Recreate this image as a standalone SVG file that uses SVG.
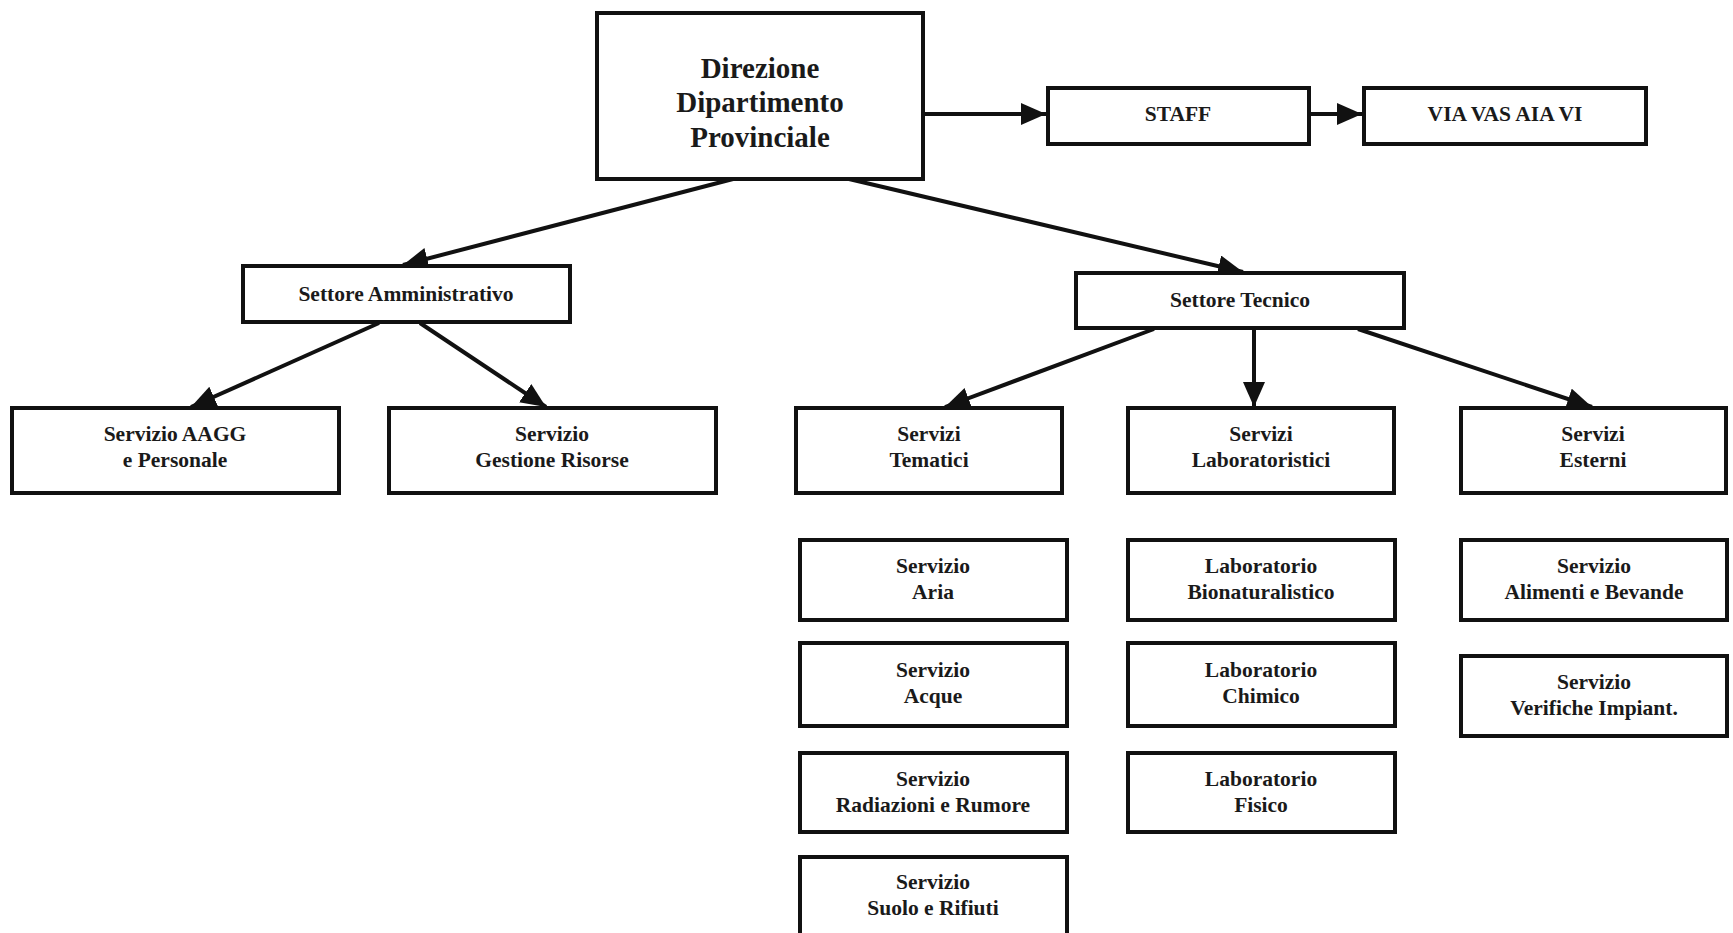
<svg xmlns="http://www.w3.org/2000/svg" width="1733" height="933" viewBox="0 0 1733 933">
<defs>
<style>
.box{fill:#fff;stroke:#111;stroke-width:4}
.t{font-family:"Liberation Serif","Times New Roman",serif;font-weight:bold;font-size:21.5px;fill:#1a1a1a;text-anchor:middle}
.big{font-size:29px}
.c{stroke:#111;stroke-width:4;fill:none}
</style>
<marker id="ah" markerUnits="userSpaceOnUse" markerWidth="28" markerHeight="26" refX="25" refY="11" orient="auto">
<path d="M0,0 L25,11 L0,22 Z" fill="#111"/>
</marker>
</defs>
<rect width="1733" height="933" fill="#fff"/>
<g id="connectors">
<line class="c" x1="923" y1="114" x2="1046" y2="114" marker-end="url(#ah)"/>
<line class="c" x1="1309" y1="114" x2="1362" y2="114" marker-end="url(#ah)"/>
<line class="c" x1="733" y1="179" x2="403" y2="265" marker-end="url(#ah)"/>
<line class="c" x1="849" y1="179" x2="1243" y2="272" marker-end="url(#ah)"/>
<line class="c" x1="379" y1="323" x2="191" y2="407" marker-end="url(#ah)"/>
<line class="c" x1="420" y1="323" x2="546" y2="407" marker-end="url(#ah)"/>
<line class="c" x1="1154" y1="329" x2="945" y2="407" marker-end="url(#ah)"/>
<line class="c" x1="1254" y1="329" x2="1254" y2="407" marker-end="url(#ah)"/>
<line class="c" x1="1358" y1="329" x2="1592" y2="407" marker-end="url(#ah)"/>
</g>
<g id="direzione">
<rect class="box" x="597" y="13" width="326" height="166"/>
<text class="t big" x="760" y="78">Direzione</text>
<text class="t big" x="760" y="112">Dipartimento</text>
<text class="t big" x="760" y="147">Provinciale</text>
</g>
<g id="staff">
<rect class="box" x="1048" y="88" width="261" height="56"/>
<text class="t" x="1178" y="121">STAFF</text>
</g>
<g id="via">
<rect class="box" x="1364" y="88" width="282" height="56"/>
<text class="t" x="1505" y="121">VIA VAS AIA VI</text>
</g>
<g id="settore-amministrativo">
<rect class="box" x="243" y="266" width="327" height="56"/>
<text class="t" x="406" y="301">Settore Amministrativo</text>
</g>
<g id="settore-tecnico">
<rect class="box" x="1076" y="273" width="328" height="55"/>
<text class="t" x="1240" y="307">Settore Tecnico</text>
</g>
<g id="aagg">
<rect class="box" x="12" y="408" width="327" height="85"/>
<text class="t" x="175" y="441">Servizio AAGG</text>
<text class="t" x="175" y="467">e Personale</text>
</g>
<g id="gestione-risorse">
<rect class="box" x="389" y="408" width="327" height="85"/>
<text class="t" x="552" y="441">Servizio</text>
<text class="t" x="552" y="467">Gestione Risorse</text>
</g>
<g id="servizi-tematici">
<rect class="box" x="796" y="408" width="266" height="85"/>
<text class="t" x="929" y="441">Servizi</text>
<text class="t" x="929" y="467">Tematici</text>
</g>
<g id="servizi-laboratoristici">
<rect class="box" x="1128" y="408" width="266" height="85"/>
<text class="t" x="1261" y="441">Servizi</text>
<text class="t" x="1261" y="467">Laboratoristici</text>
</g>
<g id="servizi-esterni">
<rect class="box" x="1461" y="408" width="265" height="85"/>
<text class="t" x="1593" y="441">Servizi</text>
<text class="t" x="1593" y="467">Esterni</text>
</g>
<g id="aria">
<rect class="box" x="800" y="540" width="267" height="80"/>
<text class="t" x="933" y="573">Servizio</text>
<text class="t" x="933" y="599">Aria</text>
</g>
<g id="acque">
<rect class="box" x="800" y="643" width="267" height="83"/>
<text class="t" x="933" y="677">Servizio</text>
<text class="t" x="933" y="703">Acque</text>
</g>
<g id="radiazioni">
<rect class="box" x="800" y="753" width="267" height="79"/>
<text class="t" x="933" y="786">Servizio</text>
<text class="t" x="933" y="812">Radiazioni e Rumore</text>
</g>
<g id="suolo">
<rect class="box" x="800" y="857" width="267" height="90"/>
<text class="t" x="933" y="889">Servizio</text>
<text class="t" x="933" y="915">Suolo e Rifiuti</text>
</g>
<g id="bionaturalistico">
<rect class="box" x="1128" y="540" width="267" height="80"/>
<text class="t" x="1261" y="573">Laboratorio</text>
<text class="t" x="1261" y="599">Bionaturalistico</text>
</g>
<g id="chimico">
<rect class="box" x="1128" y="643" width="267" height="83"/>
<text class="t" x="1261" y="677">Laboratorio</text>
<text class="t" x="1261" y="703">Chimico</text>
</g>
<g id="fisico">
<rect class="box" x="1128" y="753" width="267" height="79"/>
<text class="t" x="1261" y="786">Laboratorio</text>
<text class="t" x="1261" y="812">Fisico</text>
</g>
<g id="alimenti">
<rect class="box" x="1461" y="540" width="266" height="80"/>
<text class="t" x="1594" y="573">Servizio</text>
<text class="t" x="1594" y="599">Alimenti e Bevande</text>
</g>
<g id="verifiche">
<rect class="box" x="1461" y="656" width="266" height="80"/>
<text class="t" x="1594" y="689">Servizio</text>
<text class="t" x="1594" y="715">Verifiche Impiant.</text>
</g>
</svg>
